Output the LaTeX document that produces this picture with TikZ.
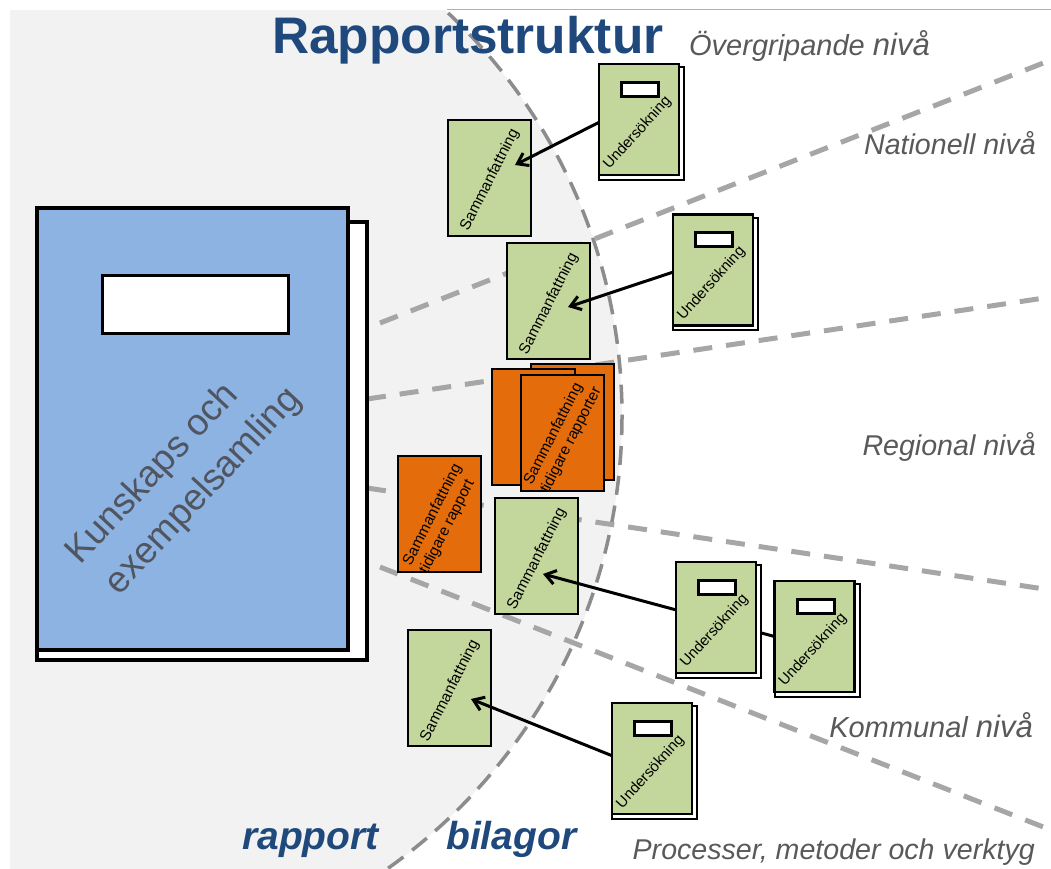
\documentclass[tikz,border=0pt]{standalone}
\usepackage{fontspec}
\setmainfont{Liberation Sans}
\usetikzlibrary{arrows.meta}
\definecolor{panelgray}{HTML}{F2F2F2}
\definecolor{dashgray}{HTML}{A6A6A6}
\definecolor{textgray}{HTML}{595959}
\definecolor{booktext}{HTML}{505560}
\definecolor{titleblue}{HTML}{1F497D}
\definecolor{bookblue}{HTML}{8DB3E2}
\definecolor{sumgreen}{HTML}{C3D69B}
\definecolor{oldorange}{HTML}{E46C0A}
\tikzset{level/.style = {dashgray, line width = 5, dash pattern = on 19 off 14}}
\tikzset{page/.style = {draw, inner sep = 0, outer sep = 0, minimum width = 83, minimum height = 116, line width = 2}}
\tikzset{sum/.style = {page, fill=sumgreen}}
\tikzset{old/.style = {page, fill=oldorange}}
\tikzset{sheet/.style = {page, fill=white, minimum width = 85, minimum height = 112.5}}
\tikzset{cover/.style = {page, fill=sumgreen, minimum width = 80, minimum height = 111, line width = 2.5}}
\tikzset{tag/.style = {draw, fill=white, inner sep = 0, minimum width = 37, minimum height = 14, line width = 3}}
\tikzset{small/.style = {font=\fontsize{15.3}{18.5}\selectfont, inner sep = 0, rotate = 63}}
\tikzset{smallund/.style = {font=\fontsize{15}{18}\selectfont, inner sep = 0, rotate = 48}}
\tikzset{scale label/.style = {textgray, inner sep = 0, anchor = base east, font=\fontsize{28.6}{32}\selectfont\itshape}}
\tikzset{part/.style = {titleblue, inner sep = 0, anchor = base west, font=\fontsize{39}{42}\selectfont\bfseries\itshape}}
\tikzset{link/.style = {line width = 3, -{Straight Barb[length=10, width=14, line width=3]}}}
\newcommand{\undbook}[3]{%
    \node [sheet] (#1 back) at (#2+2.5, #3+3.75) {};
    \node [cover] (#1) at (#2, #3) {};
    \node [tag] (#1 tag) at (#2+1, #3-30.5) {};
    \node [smallund] (#1 text) at (#2-1.5, #3+13.5) {Undersökning};
}
\begin{document}
\begin{tikzpicture}[x=1pt, y=-1pt]
    \useasboundingbox (0, 0) rectangle (1051, 868);
    \draw [gray!60, line width = 1] (447, 9.5) -- (1051, 9.5);

    \begin{scope}
        \clip (10, 10) rectangle (1051, 868);
        \fill [panelgray] (68, 416) circle (554);
        \draw [gray!90, line width = 3.5, dash pattern = on 19 off 11] (68, 416) circle (554);
    \end{scope}

    \coordinate (ray1) at (380, 323);
    \coordinate (ray1 end) at (1051, 60);
    \coordinate (ray2) at (367, 399);
    \coordinate (ray2 end) at (1051, 297);
    \coordinate (ray3) at (367, 488);
    \coordinate (ray3 end) at (1051, 590);
    \coordinate (ray4) at (380, 567);
    \coordinate (ray4 end) at (1051, 830);
    \draw [level] (ray1) -- (ray1 end);
    \draw [level] (ray2) -- (ray2 end);
    \draw [level] (ray3) -- (ray3 end);
    \draw [level] (ray4) -- (ray4 end);

    % big book
    \node [draw, fill=white, line width = 3.5, inner sep = 0, minimum width = 330, minimum height = 438] (book back) at (202, 441) {};
    \node [draw, fill=bookblue, line width = 3.5, inner sep = 0, minimum width = 311, minimum height = 442] (book) at (192.5, 429) {};
    \node [draw, fill=white, line width = 3, inner sep = 0, minimum width = 186, minimum height = 58] (book tag) at (195, 304) {};
    \node [booktext, rotate = 47, align = center, inner sep = 0, font=\fontsize{37}{49}\selectfont] (book text) at (186, 475) {Kunskaps och\hspace*{44pt}\\exempelsamling};

    % summaries
    \node [sum] (sam1) at (489.5, 177.5) {};
    \node [sum] (sam2) at (548.5, 301) {};
    \node [sum] (sam3) at (536.5, 556) {};
    \node [sum] (sam4) at (449.5, 688) {};
    \node [small] (sam1 text) at (490, 180) {Sammanfattning};
    \node [small] (sam2 text) at (549, 304) {Sammanfattning};
    \node [small] (sam3 text) at (537, 559) {Sammanfattning};
    \node [small] (sam4 text) at (450, 691) {Sammanfattning};

    \node [old] (old1) at (439.5, 514) {};
    \node [small, align = left] (old1 text) at (441, 519) {Sammanfattning\\tidigare rapport};
    \node [old] (old2) at (572, 422) {};
    \node [old] (old3) at (533, 427) {};
    \node [old] (old4) at (562, 433) {};
    \node [small, align = left] (old4 text) at (563, 436) {Sammanfattning\\tidigare rapporter};

    \coordinate (tip1) at (515, 165);
    \coordinate (tip2) at (568, 307);
    \coordinate (tip3) at (543, 574);
    \coordinate (tip4) at (471, 699);

    \undbook{und4}{814.5}{636.5}
    \draw [link] (und4.west) -- (tip3);
    \undbook{und3}{716}{617.5}
    \undbook{und1}{639}{119.5}
    \undbook{und2}{713}{270}
    \undbook{und5}{652}{758.5}
    \draw [link] (und1.184) -- (tip1);
    \draw [link] (und2.183) -- (tip2);
    \draw [link] (und5.176) -- (tip4);

    % texts
    \node [titleblue, inner sep = 0, anchor = base west, font=\fontsize{51.4}{56}\selectfont\bfseries] (title) at (272, 53) {Rapportstruktur};
    \node [scale label, font=\fontsize{29}{32}\selectfont\itshape] (over) at (930, 55) {Övergripande {\fontsize{31}{32}\selectfont nivå}};
    \node [scale label] (nat) at (1036, 154) {Nationell nivå};
    \node [scale label] (reg) at (1036, 455) {Regional nivå};
    \node [scale label, font=\fontsize{29}{32}\selectfont\itshape] (kom) at (1033, 737) {Kommunal {\fontsize{31}{32}\selectfont nivå}};
    \node [scale label] (proc) at (1035, 859) {Processer, metoder och verktyg};
    \node [part] (rapport) at (242, 849) {rapport};
    \node [part] (bilagor) at (446, 849) {bilagor};
\end{tikzpicture}
\end{document}
